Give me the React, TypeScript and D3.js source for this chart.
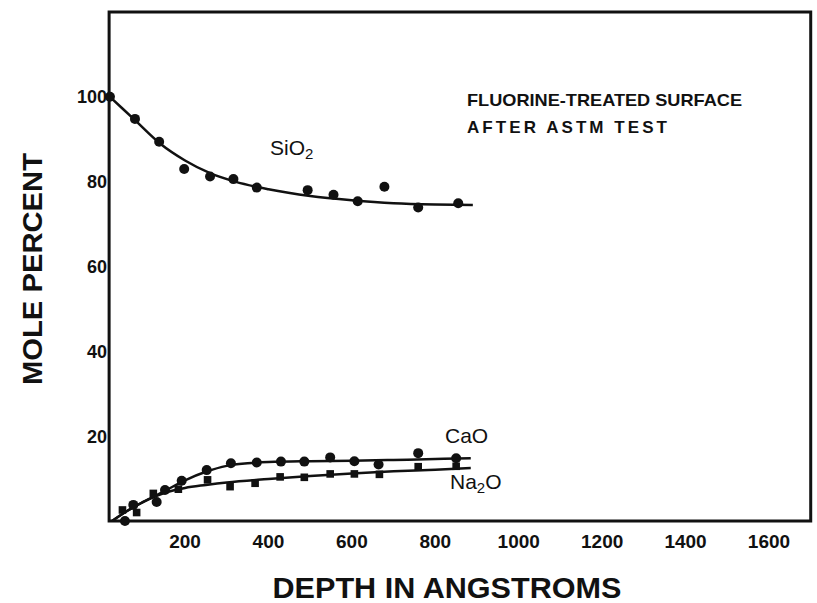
import React from 'react'
import * as d3 from 'd3'

// measured points, depth in angstroms / mole percent
const sio2Depth = [20, 80, 138, 198, 260, 316, 372, 494, 556, 614, 678, 759, 855]
const sio2Pct = [100, 94.8, 89.4, 83.0, 81.2, 80.6, 78.6, 78.0, 76.9, 75.4, 78.8, 73.9, 74.9]

const caoDepth = [56, 76, 132, 152, 192, 252, 310, 372, 430, 486, 548, 606, 664, 759, 850]
const caoPct = [0, 3.8, 4.5, 7.3, 9.5, 12.0, 13.6, 13.8, 14.0, 14.0, 15.0, 14.1, 13.3, 16.0, 14.8]

const na2oDepth = [50, 84, 124, 184, 254, 308, 368, 428, 486, 548, 606, 666, 759, 850]
const na2oPct = [2.6, 2.0, 6.5, 7.5, 9.7, 8.1, 8.9, 10.4, 10.3, 11.1, 11.1, 11.0, 12.8, 12.9]

// hand-drawn fitted curves
const sio2CurveDepth = [20, 80, 140, 200, 260, 320, 400, 500, 600, 700, 800, 890]
const sio2CurvePct = [100, 94.5, 89, 85, 82, 80, 78.2, 76.6, 75.6, 74.9, 74.6, 74.5]

const caoCurveDepth = [25, 60, 100, 150, 200, 250, 300, 350, 400, 500, 600, 700, 800, 885]
const caoCurvePct = [0, 2.3, 4.5, 7.0, 9.6, 11.6, 13.0, 13.6, 13.9, 14.1, 14.2, 14.4, 14.6, 14.8]

const na2oCurveDepth = [25, 60, 100, 150, 200, 250, 300, 400, 500, 600, 700, 800, 885]
const na2oCurvePct = [0, 2.3, 4.5, 6.6, 7.8, 8.5, 9.1, 9.9, 10.6, 11.2, 11.7, 12.1, 12.5]

const xTicks = [200, 400, 600, 800, 1000, 1200, 1400, 1600]
const yTicks = [20, 40, 60, 80, 100]

const W = 817
const H = 603
const ink = '#111'
const font = '"Liberation Sans", Arial, sans-serif'

const x = d3.scaleLinear().domain([0, 1600]).range([101.6, 769])
const y = d3.scaleLinear().domain([0, 120]).range([521, 12])

const zip = (a: number[], b: number[]) => a.map((d, i) => [d, b[i]] as [number, number])

const line = d3
  .line<[number, number]>()
  .x(d => x(d[0]))
  .y(d => y(d[1]))
  .curve(d3.curveMonotoneX)

export default function App() {
  const x0 = x(18)
  const x1 = x(1700)
  const yTop = y(120)
  const yBot = y(0)

  return (
    <svg
      width={W}
      height={H}
      style={{position: 'absolute', left: 0, top: 0, background: '#fff'}}
    >
      <rect x={0} y={0} width={W} height={H} fill="#fff" />

      {/* frame */}
      <rect
        x={x0}
        y={yTop}
        width={x1 - x0}
        height={yBot - yTop}
        fill="none"
        stroke={ink}
        strokeWidth={3}
      />

      {/* y ticks */}
      {yTicks.map(t => (
        <text
          key={t}
          x={x0 - 2}
          y={y(t)}
          dy="0.36em"
          textAnchor="end"
          fontFamily={font}
          fontWeight="bold"
          fontSize={18}
          fill={ink}
        >
          {t}
        </text>
      ))}

      {/* x ticks */}
      {xTicks.map(t => (
        <text
          key={t}
          x={x(t)}
          y={548}
          textAnchor="middle"
          fontFamily={font}
          fontWeight="bold"
          fontSize={19}
          fill={ink}
        >
          {t}
        </text>
      ))}

      {/* axis titles */}
      <text
        x={447}
        y={598}
        textAnchor="middle"
        fontFamily={font}
        fontWeight="bold"
        fontSize={29}
        textLength={349}
        lengthAdjust="spacingAndGlyphs"
        fill={ink}
      >
        DEPTH IN ANGSTROMS
      </text>
      <text
        transform="translate(42,269) rotate(-90)"
        textAnchor="middle"
        fontFamily={font}
        fontWeight="bold"
        fontSize={28}
        textLength={232}
        lengthAdjust="spacingAndGlyphs"
        fill={ink}
      >
        MOLE PERCENT
      </text>

      {/* note */}
      <text
        x={467}
        y={106}
        fontFamily={font}
        fontWeight="bold"
        fontSize={17}
        textLength={275}
        lengthAdjust="spacingAndGlyphs"
        fill={ink}
      >
        FLUORINE-TREATED SURFACE
      </text>
      <text
        x={467}
        y={133}
        fontFamily={font}
        fontWeight="bold"
        fontSize={17}
        textLength={200}
        lengthAdjust="spacing"
        fill={ink}
      >
        AFTER ASTM TEST
      </text>

      {/* curves */}
      <path d={line(zip(sio2CurveDepth, sio2CurvePct)) || ''} fill="none" stroke={ink} strokeWidth={2.5} />
      <path d={line(zip(caoCurveDepth, caoCurvePct)) || ''} fill="none" stroke={ink} strokeWidth={2.5} />
      <path d={line(zip(na2oCurveDepth, na2oCurvePct)) || ''} fill="none" stroke={ink} strokeWidth={2.5} />

      {/* markers */}
      {zip(sio2Depth, sio2Pct).map((d, i) => (
        <circle key={'s' + i} cx={x(d[0])} cy={y(d[1])} r={5} fill={ink} />
      ))}
      {zip(caoDepth, caoPct).map((d, i) => (
        <circle key={'c' + i} cx={x(d[0])} cy={y(d[1])} r={5} fill={ink} />
      ))}
      {zip(na2oDepth, na2oPct).map((d, i) => (
        <rect key={'n' + i} x={x(d[0]) - 3.8} y={y(d[1]) - 3.8} width={7.6} height={7.6} fill={ink} />
      ))}

      {/* series labels */}
      <text x={270} y={155} fontFamily={font} fontSize={21} fill={ink}>
        SiO<tspan dy={4} fontSize={15}>2</tspan>
      </text>
      <text x={445} y={443} fontFamily={font} fontSize={21} fill={ink}>
        CaO
      </text>
      <text x={450} y={489} fontFamily={font} fontSize={21} fill={ink}>
        Na<tspan dy={4} fontSize={15}>2</tspan>
        <tspan dy={-4}>O</tspan>
      </text>
    </svg>
  )
}
